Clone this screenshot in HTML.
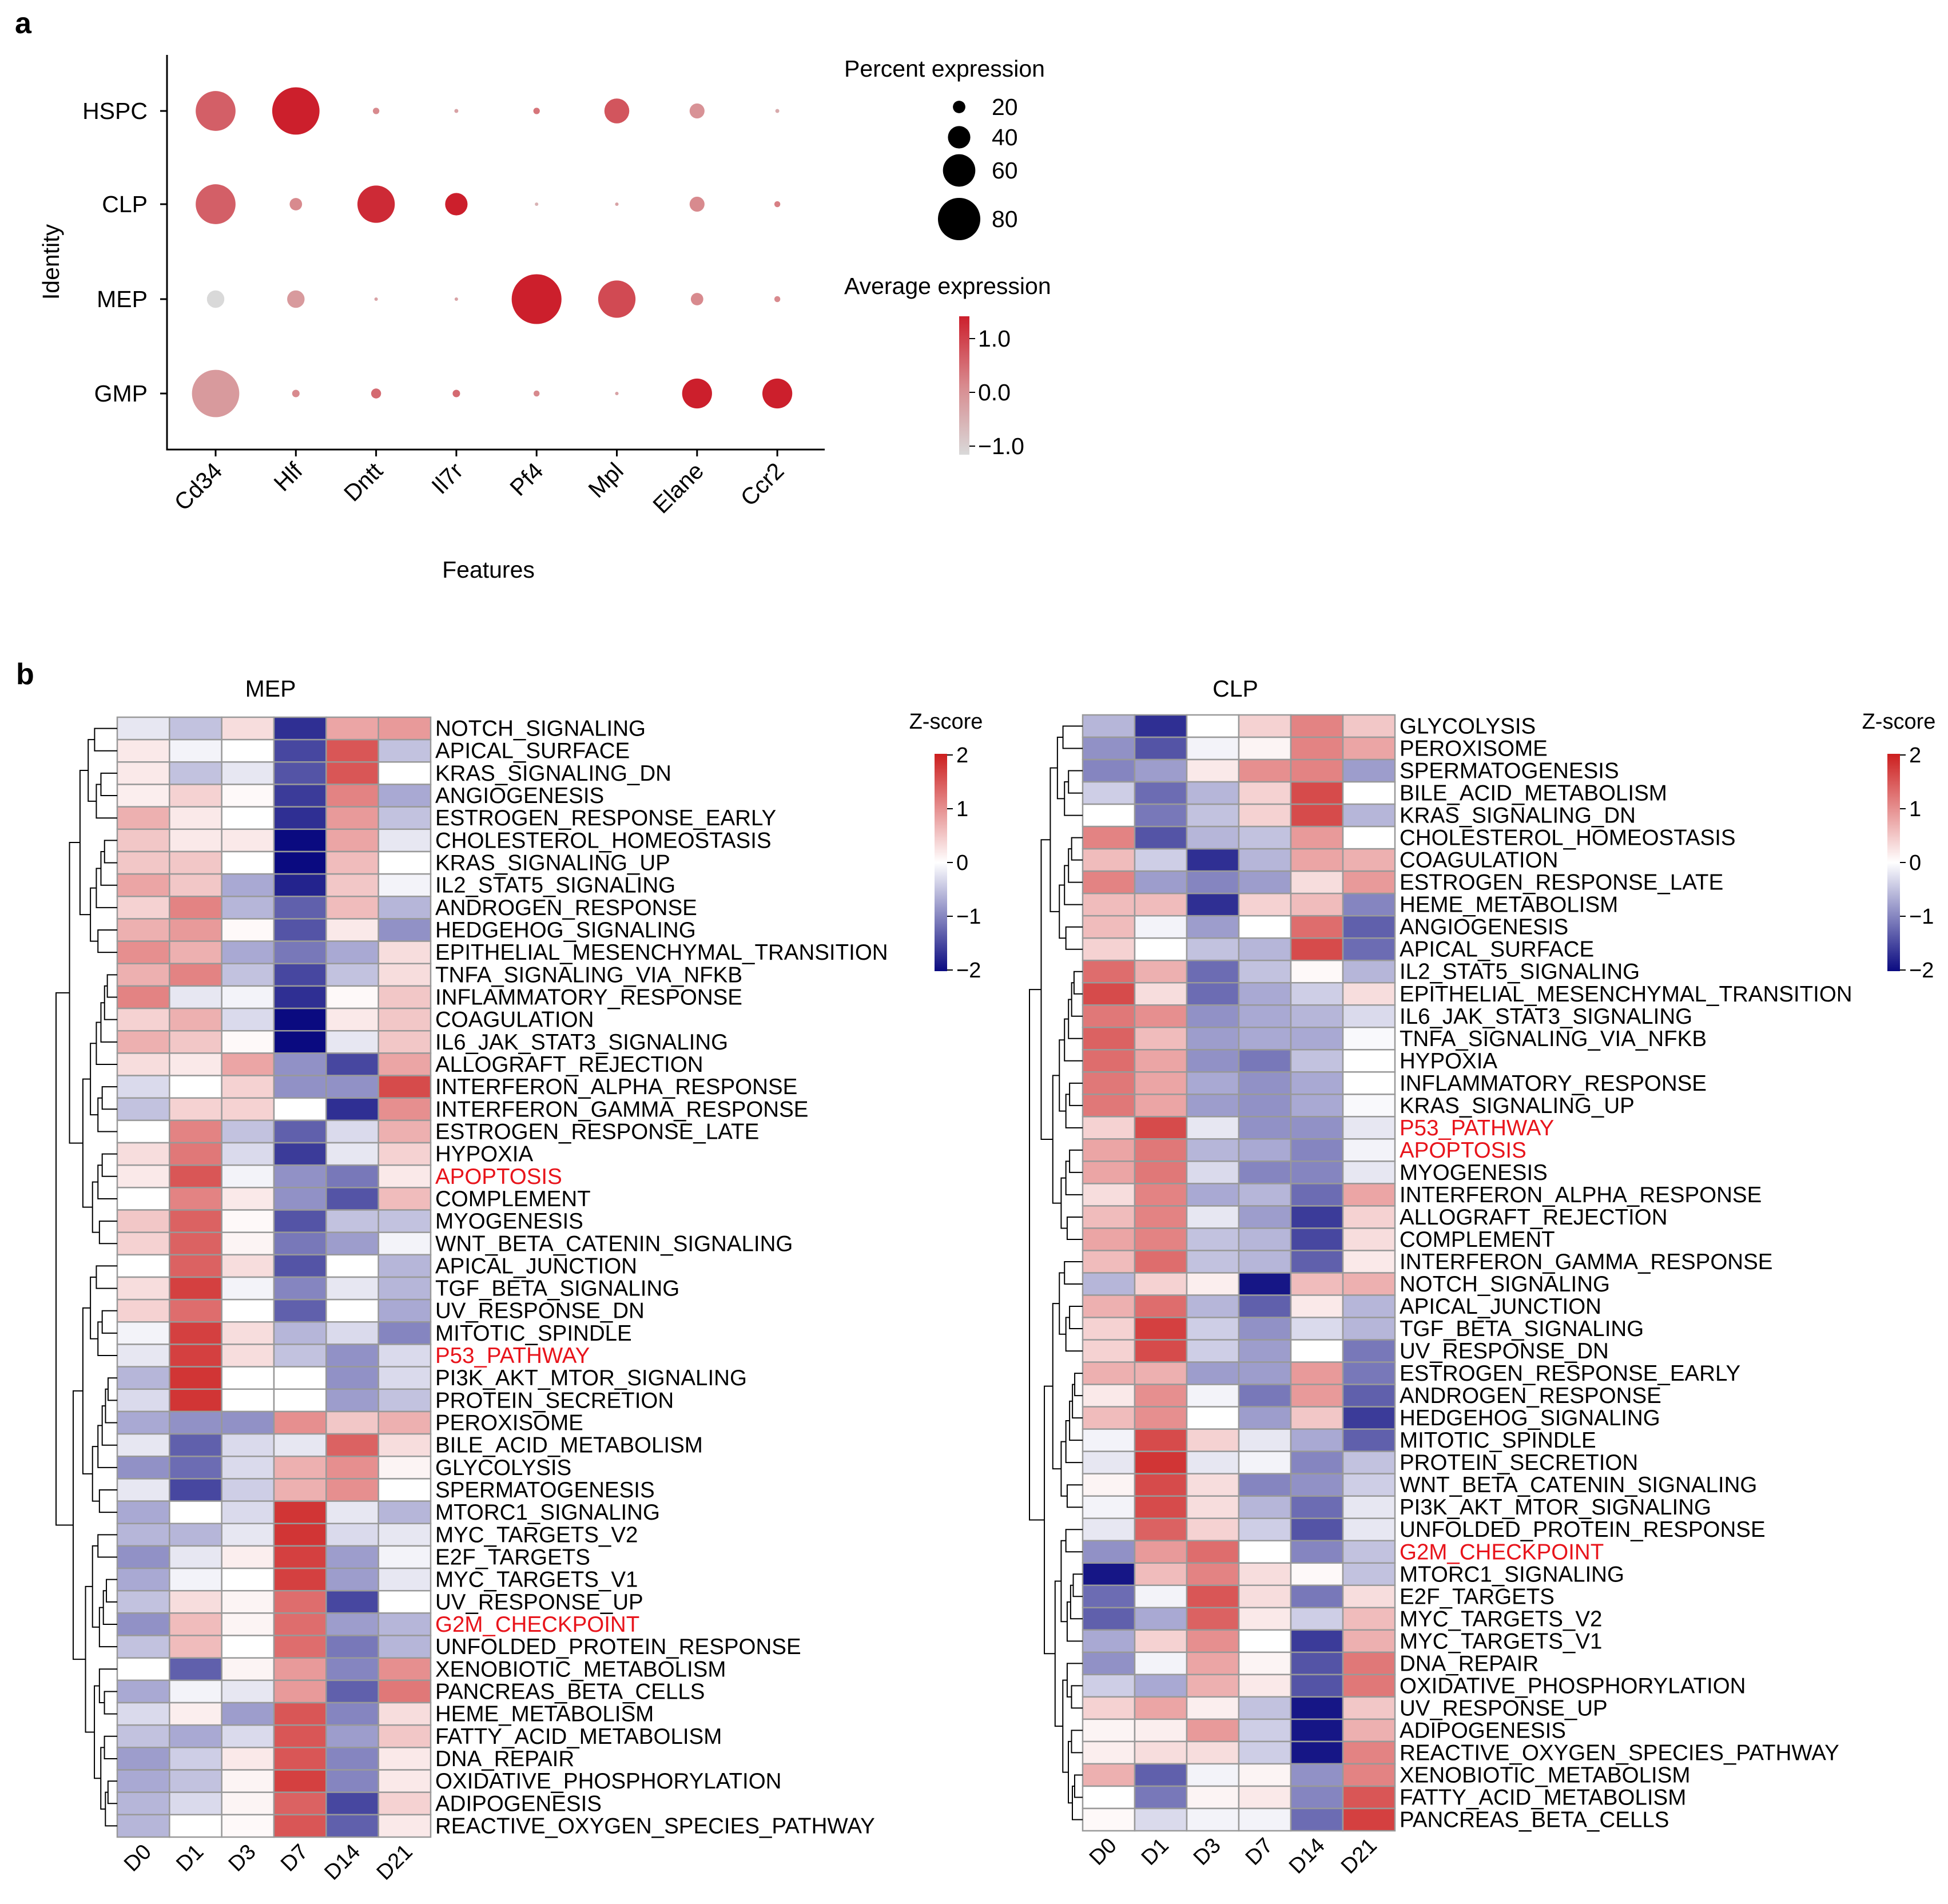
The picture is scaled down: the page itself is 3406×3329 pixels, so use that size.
<!DOCTYPE html>
<html><head><meta charset="utf-8">
<style>
html,body{margin:0;padding:0;background:#fff;}
svg{display:block;font-family:"Liberation Sans",Arial,sans-serif;}
</style></head>
<body>
<svg id="fig" width="3406" height="3329" viewBox="0 0 3406 3329" xmlns="http://www.w3.org/2000/svg">
<defs>
<linearGradient id="avgGrad" x1="0" y1="1" x2="0" y2="0">
<stop offset="0" stop-color="#d9d9d9"/><stop offset="0.5" stop-color="#d88a8e"/><stop offset="1" stop-color="#cc1f2c"/>
</linearGradient>
<linearGradient id="zGrad" x1="0" y1="1" x2="0" y2="0">
<stop offset="0" stop-color="#0a0a80"/><stop offset="0.5" stop-color="#ffffff"/><stop offset="1" stop-color="#cc1e1e"/>
</linearGradient>
</defs>
<text x="26" y="58" font-size="52" font-weight="bold">a</text>
<text x="28" y="1196" font-size="52" font-weight="bold">b</text>
<g id="dot"></g>
<g id="mep"></g>
<g id="clp"></g>
</svg>
<script>
// ---------- Panel a data ----------
const dotFeatures = ["Cd34","Hlf","Dntt","Il7r","Pf4","Mpl","Elane","Ccr2"];
const dotIdentities = ["HSPC","CLP","MEP","GMP"];
const pctHSPC = [75,90,8,3,8,45,25,3];
const pctCLP  = [75,20,70,40,2,2,25,7];
const pctMEP  = [30,30,2,2,95,70,20,7];
const pctGMP  = [90,10,15,10,7,2,55,55];
const avgHSPC = [0.4,1.0,0.0,-0.3,0.2,0.5,-0.1,-0.4];
const avgCLP  = [0.4,0.0,0.9,1.0,-0.5,-0.3,0.0,0.1];
const avgMEP  = [-1.0,-0.2,-0.3,-0.3,1.0,0.6,0.0,0.0];
const avgGMP  = [-0.2,0.0,0.3,0.3,0.0,-0.3,1.0,1.0];
const pctLegend = [20,40,60,80];
const avgTicks = [1.0,0.0,-1.0];

// ---------- Panel b data ----------
const days = ["D0","D1","D3","D7","D14","D21"];
const mepRows = ["NOTCH_SIGNALING","APICAL_SURFACE","KRAS_SIGNALING_DN","ANGIOGENESIS","ESTROGEN_RESPONSE_EARLY","CHOLESTEROL_HOMEOSTASIS","KRAS_SIGNALING_UP","IL2_STAT5_SIGNALING","ANDROGEN_RESPONSE","HEDGEHOG_SIGNALING","EPITHELIAL_MESENCHYMAL_TRANSITION","TNFA_SIGNALING_VIA_NFKB","INFLAMMATORY_RESPONSE","COAGULATION","IL6_JAK_STAT3_SIGNALING","ALLOGRAFT_REJECTION","INTERFERON_ALPHA_RESPONSE","INTERFERON_GAMMA_RESPONSE","ESTROGEN_RESPONSE_LATE","HYPOXIA","APOPTOSIS","COMPLEMENT","MYOGENESIS","WNT_BETA_CATENIN_SIGNALING","APICAL_JUNCTION","TGF_BETA_SIGNALING","UV_RESPONSE_DN","MITOTIC_SPINDLE","P53_PATHWAY","PI3K_AKT_MTOR_SIGNALING","PROTEIN_SECRETION","PEROXISOME","BILE_ACID_METABOLISM","GLYCOLYSIS","SPERMATOGENESIS","MTORC1_SIGNALING","MYC_TARGETS_V2","E2F_TARGETS","MYC_TARGETS_V1","UV_RESPONSE_UP","G2M_CHECKPOINT","UNFOLDED_PROTEIN_RESPONSE","XENOBIOTIC_METABOLISM","PANCREAS_BETA_CELLS","HEME_METABOLISM","FATTY_ACID_METABOLISM","DNA_REPAIR","OXIDATIVE_PHOSPHORYLATION","ADIPOGENESIS","REACTIVE_OXYGEN_SPECIES_PATHWAY"];
const mepValues = [
[-0.2,-0.5,0.3,-1.7,0.8,0.9],[0.2,-0.1,0,-1.5,1.5,-0.5],[0.2,-0.5,-0.2,-1.4,1.5,0],[0.15,0.4,0.05,-1.6,1.1,-0.7],
[0.7,0.2,0,-1.7,0.9,-0.5],[0.5,0.2,0.2,-2.0,0.8,-0.2],[0.5,0.5,0,-2.0,0.6,0],[0.8,0.5,-0.7,-1.8,0.5,-0.1],
[0.4,1.1,-0.6,-1.3,0.6,-0.6],[0.7,0.9,0.05,-1.4,0.2,-0.9],[1.0,0.7,-0.7,-1.1,-0.7,0.3],[0.7,1.1,-0.5,-1.5,-0.5,0.3],
[1.1,-0.2,-0.1,-1.7,0.05,0.5],[0.4,0.7,-0.3,-2.0,0.2,0.5],[0.7,0.5,0.05,-2.0,-0.2,0.5],[0.3,0.2,0.8,-0.9,-1.5,0.8],
[-0.3,0,0.4,-0.9,-0.9,1.6],[-0.5,0.4,0.4,0,-1.7,1.0],[0,1.1,-0.5,-1.3,-0.3,0.7],[0.3,1.2,-0.3,-1.6,-0.2,0.4],
[0.2,1.5,-0.1,-0.9,-1.1,0.2],[0,1.1,0.2,-0.9,-1.4,0.6],[0.5,1.4,0.05,-1.4,-0.5,-0.5],[0.4,1.4,0.1,-1.1,-0.8,-0.1],
[0,1.4,0.3,-1.4,0,-0.6],[0.3,1.7,-0.1,-1.0,-0.2,-0.6],[0.4,1.3,0,-1.3,0,-0.7],[-0.1,1.7,0.3,-0.6,-0.3,-1.0],
[-0.2,1.7,0.3,-0.5,-0.9,-0.3],[-0.6,1.8,0,0,-0.9,-0.3],[-0.3,1.8,0,0,-0.8,-0.5],[-0.7,-0.9,-0.9,1.0,0.5,0.7],
[-0.2,-1.3,-0.3,-0.2,1.4,0.3],[-0.9,-1.2,-0.3,0.7,1.0,0.1],[-0.2,-1.5,-0.4,0.7,1.0,0],[-0.7,0,-0.3,1.8,-0.2,-0.6],
[-0.6,-0.6,-0.2,1.8,-0.3,-0.2],[-0.9,-0.2,0.15,1.7,-0.8,-0.1],[-0.7,-0.1,0,1.7,-0.8,-0.2],[-0.5,0.3,0.1,1.3,-1.5,0],
[-0.9,0.6,0.1,1.3,-0.8,-0.6],[-0.5,0.6,0,1.3,-1.1,-0.6],[0,-1.3,0.1,0.9,-1.0,1.0],[-0.7,-0.1,-0.2,0.9,-1.3,1.2],
[-0.3,0.15,-0.8,1.5,-1.0,0.3],[-0.5,-0.7,-0.3,1.5,-0.8,0.5],[-0.8,-0.4,0.2,1.5,-1.0,0.2],[-0.7,-0.5,0.1,1.7,-1.0,0.2],
[-0.6,-0.3,0.1,1.4,-1.5,0.4],[-0.6,0,0.05,1.5,-1.3,0.2]];
const clpRows = ["GLYCOLYSIS","PEROXISOME","SPERMATOGENESIS","BILE_ACID_METABOLISM","KRAS_SIGNALING_DN","CHOLESTEROL_HOMEOSTASIS","COAGULATION","ESTROGEN_RESPONSE_LATE","HEME_METABOLISM","ANGIOGENESIS","APICAL_SURFACE","IL2_STAT5_SIGNALING","EPITHELIAL_MESENCHYMAL_TRANSITION","IL6_JAK_STAT3_SIGNALING","TNFA_SIGNALING_VIA_NFKB","HYPOXIA","INFLAMMATORY_RESPONSE","KRAS_SIGNALING_UP","P53_PATHWAY","APOPTOSIS","MYOGENESIS","INTERFERON_ALPHA_RESPONSE","ALLOGRAFT_REJECTION","COMPLEMENT","INTERFERON_GAMMA_RESPONSE","NOTCH_SIGNALING","APICAL_JUNCTION","TGF_BETA_SIGNALING","UV_RESPONSE_DN","ESTROGEN_RESPONSE_EARLY","ANDROGEN_RESPONSE","HEDGEHOG_SIGNALING","MITOTIC_SPINDLE","PROTEIN_SECRETION","WNT_BETA_CATENIN_SIGNALING","PI3K_AKT_MTOR_SIGNALING","UNFOLDED_PROTEIN_RESPONSE","G2M_CHECKPOINT","MTORC1_SIGNALING","E2F_TARGETS","MYC_TARGETS_V2","MYC_TARGETS_V1","DNA_REPAIR","OXIDATIVE_PHOSPHORYLATION","UV_RESPONSE_UP","ADIPOGENESIS","REACTIVE_OXYGEN_SPECIES_PATHWAY","XENOBIOTIC_METABOLISM","FATTY_ACID_METABOLISM","PANCREAS_BETA_CELLS"];
const clpValues = [
[-0.6,-1.7,0,0.4,1.1,0.5],[-0.9,-1.4,-0.1,0.1,1.1,0.8],[-1.0,-0.8,0.2,1.0,1.1,-0.8],[-0.4,-1.2,-0.6,0.4,1.6,0],
[0,-1.1,-0.5,0.4,1.6,-0.6],[1.1,-1.4,-0.6,-0.5,0.9,0],[0.6,-0.4,-1.7,-0.6,0.8,0.7],[1.1,-0.8,-1.0,-0.8,0.3,0.9],
[0.6,0.6,-1.7,0.4,0.6,-1.0],[0.6,-0.1,-0.8,0,1.3,-1.3],[0.4,0,-0.5,-0.6,1.6,-1.2],[1.3,0.7,-1.2,-0.5,0.05,-0.6],
[1.6,0.3,-1.2,-0.7,-0.4,0.3],[1.2,1.0,-0.9,-0.7,-0.6,-0.3],[1.4,0.6,-0.8,-0.7,-0.7,-0.05],[1.3,0.8,-0.9,-1.1,-0.5,0],
[1.2,0.8,-0.7,-0.9,-0.7,0],[1.2,0.8,-0.8,-0.9,-0.7,-0.05],[0.4,1.6,-0.2,-0.9,-0.9,-0.2],[0.8,1.2,-0.6,-0.7,-1.0,-0.1],
[0.8,1.2,-0.3,-1.0,-1.0,-0.2],[0.3,1.1,-0.7,-0.6,-1.2,0.8],[0.6,1.1,-0.2,-0.8,-1.6,0.4],[0.8,1.1,-0.5,-0.6,-1.5,0.3],
[0.6,1.3,-0.5,-0.6,-1.3,0.2],[-0.6,0.4,0.15,-1.9,0.6,0.7],[0.7,1.3,-0.6,-1.3,0.2,-0.6],[0.4,1.7,-0.4,-0.9,-0.3,-0.6],
[0.4,1.6,-0.4,-0.8,0,-1.1],[0.7,0.7,-0.8,-0.8,0.9,-1.1],[0.2,1.0,-0.1,-1.1,0.9,-1.3],[0.6,1.0,0,-0.8,0.5,-1.6],
[-0.1,1.6,0.4,-0.2,-0.7,-1.3],[-0.2,1.8,-0.2,-0.1,-1.0,-0.5],[0.1,1.6,0.3,-1.0,-0.9,-0.4],[-0.1,1.6,0.3,-0.6,-1.2,-0.2],
[-0.2,1.4,0.4,-0.4,-1.4,-0.2],[-0.9,0.9,1.3,0,-1.0,-0.5],[-1.9,0.6,1.1,0.3,0.05,-0.5],[-1.2,-0.1,1.5,0.3,-1.1,0.3],
[-1.3,-0.7,1.4,0.2,-0.4,0.6],[-0.7,0.4,1.0,0,-1.6,0.7],[-0.9,-0.1,0.8,0.1,-1.4,1.2],[-0.4,-0.7,0.7,0.2,-1.4,1.2],
[0.4,0.8,0.15,-0.5,-1.9,0.5],[0.1,0.15,0.9,-0.4,-1.9,0.7],[0.15,0.3,0.3,-0.4,-1.9,1.1],[0.7,-1.3,-0.1,0.1,-0.9,1.1],
[0,-1.1,0.1,0.2,-1.0,1.5],[0.05,-0.3,-0.1,-0.1,-1.2,1.7]];
const highlighted = ["APOPTOSIS","P53_PATHWAY","G2M_CHECKPOINT"];
const zTicks = [2,1,0,-1,-2];

const NS = "http://www.w3.org/2000/svg";
function mk(parent, tag, attrs, text){
  const e = document.createElementNS(NS, tag);
  for (const k in attrs) e.setAttribute(k, attrs[k]);
  if (text !== undefined) e.textContent = text;
  parent.appendChild(e);
  return e;
}
function lerp(a,b,t){return Math.round(a+(b-a)*t);}
function zColor(v){
  v = Math.max(-2, Math.min(2, v));
  if (v >= 0){ const t=v/2; return `rgb(${lerp(255,204,t)},${lerp(255,30,t)},${lerp(255,30,t)})`; }
  const t=-v/2; return `rgb(${lerp(255,10,t)},${lerp(255,10,t)},${lerp(255,128,t)})`;
}
function avgColor(v){
  const t = (Math.max(-1,Math.min(1,v))+1)/2;
  if (t < 0.5){ const s=t/0.5; return `rgb(${lerp(217,216,s)},${lerp(217,138,s)},${lerp(217,142,s)})`; }
  const s=(t-0.5)/0.5; return `rgb(${lerp(216,204,s)},${lerp(138,31,s)},${lerp(142,44,s)})`;
}

// ---------- Panel a ----------
(function(){
  const g = document.getElementById('dot');
  const x0 = 377, dx = 140.3;
  const yRows = [194,357,523,688];
  const xS = i => x0 + i*dx;
  const rS = p => (0.2*p + 1) * 2.178;
  const pcts = [pctHSPC,pctCLP,pctMEP,pctGMP];
  const avgs = [avgHSPC,avgCLP,avgMEP,avgGMP];
  const ax = mk(g,'path',{d:'M292,96 L292,786 L1442,786',fill:'none',stroke:'#000','stroke-width':3});
  
  
  dotIdentities.forEach((id,r)=>{
    const t = mk(g,'line',{x1:280,x2:292,y1:yRows[r],y2:yRows[r],stroke:'#000','stroke-width':3});
    
    
    const l = mk(g,'text',{x:258,y:yRows[r]+14,'font-size':41,'text-anchor':'end'},id);
    
    
    dotFeatures.forEach((f,c)=>{
      const d = mk(g,'circle',{cx:xS(c),cy:yRows[r],r:rS(pcts[r][c]),fill:avgColor(avgs[r][c])});
      
      
    });
  });
  dotFeatures.forEach((f,c)=>{
    const t = mk(g,'line',{x1:xS(c),x2:xS(c),y1:786,y2:798,stroke:'#000','stroke-width':3});
    
    
    const l = mk(g,'text',{x:0,y:0,'font-size':41,'text-anchor':'end',transform:`translate(${xS(c)+14},${826}) rotate(-45)`},f);
    
    
  });
  const yt = mk(g,'text',{x:0,y:0,'font-size':41,'text-anchor':'middle',transform:'translate(103,458) rotate(-90)'},'Identity');
  
  
  const xt = mk(g,'text',{x:854,y:1010,'font-size':41,'text-anchor':'middle'},'Features');
  
  
  // legend
  const pt = mk(g,'text',{x:1476,y:134,'font-size':41},'Percent expression');
  
  
  const ly = [187,240,298,383];
  pctLegend.forEach((p,i)=>{
    const c = mk(g,'circle',{cx:1677,cy:ly[i],r:rS(p),fill:'#000'});
    
    
    const t = mk(g,'text',{x:1734,y:ly[i]+14,'font-size':41},String(p));
    
    
  });
  const at = mk(g,'text',{x:1476,y:514,'font-size':41},'Average expression');
  
  
  const cb = mk(g,'rect',{x:1677,y:553,width:18,height:242,fill:'url(#avgGrad)'});
  
  
  const ay = v => 686 - v*94;
  avgTicks.forEach(v=>{
    const tk = mk(g,'line',{x1:1695,x2:1705,y1:ay(v),y2:ay(v),stroke:'#000','stroke-width':2});
    
    
    const t = mk(g,'text',{x:1710,y:ay(v)+14,'font-size':41},(v<0?'\u22121.0':v.toFixed(1)));
    
    
  });
})();

// ---------- Panel b ----------
function heatmap(gid, title, titleX, rows, vals, gx, gy, gw, gh, dendX, cbX, cbLabelX){
  const g = document.getElementById(gid);
  const cw = gw/days.length, rh = gh/rows.length;
  const tt = mk(g,'text',{x:titleX,y:1218,'font-size':41,'text-anchor':'middle'},title);
  
  
  rows.forEach((name,r)=>{
    days.forEach((d,c)=>{
      const cell = mk(g,'rect',{x:gx+c*cw,y:gy+r*rh,width:cw,height:rh,fill:zColor(vals[r][c]),stroke:'#999','stroke-width':2.5});
      
      
    });
    const hl = highlighted.includes(name);
    const t = mk(g,'text',{x:gx+gw+8,y:gy+r*rh+rh*0.5+13,'font-size':38.5,fill:hl?'#e8141b':'#000'},name);
    
    
  });
  days.forEach((d,c)=>{
    const t = mk(g,'text',{x:0,y:0,'font-size':38,'text-anchor':'end',transform:`translate(${gx+c*cw+cw*0.5+16},${gy+gh+28}) rotate(-45)`},d);
    
    
  });
  // dendrogram
  const dw = gx - dendX;
  function build(lo,hi,h){
    if (hi-lo===1) return {y: gy+lo*rh+rh/2, x: gx};
    const mid = lo + Math.max(1, Math.round((hi-lo)*0.5 + ((lo*7+hi*3)%3-1)));
    const m = Math.min(hi-1, mid);
    const a = build(lo,m,h*0.78), b = build(m,hi,h*0.72);
    const x = gx - dw*h;
    const p = mk(g,'path',{d:`M${a.x},${a.y} L${x},${a.y} L${x},${b.y} L${b.x},${b.y}`,fill:'none',stroke:'#000','stroke-width':2});
    
    
    return {y:(a.y+b.y)/2, x:x};
  }
  build(0,rows.length,1);
  // colorbar
  const zt = mk(g,'text',{x:cbX+20,y:1274,'font-size':38,'text-anchor':'middle'},'Z-score');
  
  
  const cb = mk(g,'rect',{x:cbX,y:1318,width:22,height:380,fill:'url(#zGrad)'});
  
  
  const zy = v => 1508 - v*94;
  zTicks.forEach(v=>{
    const tk = mk(g,'line',{x1:cbX+22,x2:cbX+32,y1:zy(v),y2:zy(v),stroke:'#000','stroke-width':2});
    
    
    const t = mk(g,'text',{x:cbLabelX,y:zy(v)+13,'font-size':38},v<0?'\u2212'+(-v):String(v));
    
    
  });
}
heatmap('mep','MEP',473,mepRows,mepValues,205,1254,548,1958,98,1634,1672);
heatmap('clp','CLP',2160,clpRows,clpValues,1893,1250,546,1951,1800,3300,3338);
</script>
</body></html>
